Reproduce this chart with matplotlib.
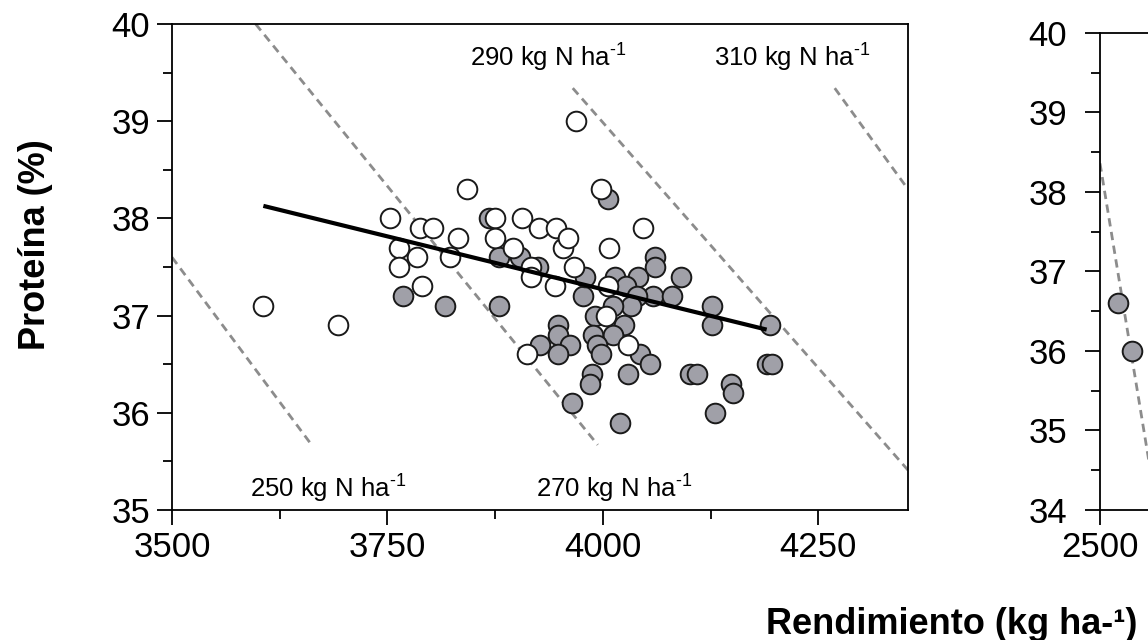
import numpy as np
import matplotlib
matplotlib.use('Agg')
import matplotlib.pyplot as plt
from matplotlib.ticker import MultipleLocator, FixedLocator, NullLocator

# Rendimiento (kg/ha) y proteína (%) de cada parcela
# círculos blancos
blanco_rend = [3606, 3693, 3753, 3763, 3763, 3784, 3788, 3790, 3803, 3822,
               3832, 3842, 3875, 3875, 3896, 3906, 3916, 3917, 3926, 3945,
               3944, 3954, 3960, 3967, 3969, 3998, 4006, 4007, 4004, 4029,
               3912, 4047]
blanco_prot = [37.1, 36.9, 38.0, 37.7, 37.5, 37.6, 37.9, 37.3, 37.9, 37.6,
               37.8, 38.3, 38.0, 37.8, 37.7, 38.0, 37.5, 37.4, 37.9, 37.9,
               37.3, 37.7, 37.8, 37.5, 39.0, 38.3, 37.3, 37.7, 37.0, 36.7,
               36.6, 37.9]

# círculos grises
gris_rend = [3768, 3817, 3868, 3879, 3879, 3904, 3925, 3977, 3979, 4006,
             4014, 4041, 4060, 4060, 4091, 4027, 4058, 4080, 4039, 4033,
             4012, 3991, 4024, 3989, 4012, 3993, 3998, 4043, 4055, 4029,
             3948, 3948, 3927, 3962, 3948, 3987, 3985, 3964, 4020, 4101,
             4109, 4126, 4126, 4194, 4190, 4196, 4149, 4151, 4130]
gris_prot = [37.2, 37.1, 38.0, 37.6, 37.1, 37.6, 37.5, 37.2, 37.4, 38.2,
             37.4, 37.4, 37.6, 37.5, 37.4, 37.3, 37.2, 37.2, 37.2, 37.1,
             37.1, 37.0, 36.9, 36.8, 36.8, 36.7, 36.6, 36.6, 36.5, 36.4,
             36.9, 36.8, 36.7, 36.7, 36.6, 36.4, 36.3, 36.1, 35.9, 36.4,
             36.4, 37.1, 36.9, 36.9, 36.5, 36.5, 36.3, 36.2, 36.0]

# recta de regresión: proteína = a + b * rendimiento
reg_a = 45.99
reg_b = -0.00218
reg_rango = [3606, 4190]

# isolíneas de N exportado (extremos rendimiento / proteína)
iso_n = [250, 270, 290, 310]
iso_rend = [[3500, 3662], [3597, 3994], [3965, 4354], [4269, 4354]]
iso_prot = [[37.60, 35.67], [40.0, 35.67], [39.34, 35.41], [39.34, 38.30]]
# posición de las etiquetas de las isolíneas
iso_lab_x = [3681, 4013, 3936, 4220]
iso_lab_y = [35.13, 35.13, 39.56, 39.56]

# segundo panel (solo se ve el borde izquierdo)
p2_rend = [2537, 2565]
p2_prot = [36.6, 36.0]
p2_iso_rend = [2500, 2616]
p2_iso_prot = [38.36, 34.0]
p2_xticks = [2500]

GRIS = '#a0a0a8'
BORDE = '#1a1a1a'
DASH = '#8c8c8c'


def estilo_ejes(ax, ypad):
    """
    Marco, ticks hacia fuera y fuentes
    """
    for s in ax.spines.values():
        s.set_linewidth(1.3)
        s.set_color('black')
    ax.tick_params(which='major', direction='out', length=10.8, width=1.3,
                   labelsize=25, colors='black')
    ax.tick_params(which='minor', direction='out', length=6.5, width=1.3)
    ax.tick_params(axis='y', pad=ypad)
    ax.tick_params(axis='x', pad=4)
    ax.yaxis.set_minor_locator(MultipleLocator(0.5))


def panel_izq(ax):
    # isolíneas de N (debajo de los puntos)
    for xs, ys in zip(iso_rend, iso_prot):
        ax.plot(xs, ys, color=DASH, lw=2, dashes=(3, 2), zorder=1)
    for n, x, y in zip(iso_n, iso_lab_x, iso_lab_y):
        ax.text(x, y, '%d kg N ha$^{\\text{-}1}$' % n, ha='center',
                va='baseline', fontsize=18.5, zorder=5)

    ax.scatter(gris_rend, gris_prot, s=200, facecolor=GRIS, edgecolor=BORDE,
               linewidth=1.4, zorder=2)
    ax.scatter(blanco_rend, blanco_prot, s=200, facecolor='white',
               edgecolor=BORDE, linewidth=1.4, zorder=3)

    # regresión
    xr = np.array(reg_rango)
    ax.plot(xr, reg_a + reg_b * xr, color='black', lw=3, zorder=4,
            solid_capstyle='butt')

    ax.set_xlim(3500, 4354)
    ax.set_ylim(35, 40)
    ax.xaxis.set_major_locator(MultipleLocator(250))
    ax.xaxis.set_minor_locator(MultipleLocator(125))
    ax.yaxis.set_major_locator(MultipleLocator(1))
    estilo_ejes(ax, 5)


def panel_der(ax):
    ax.plot(p2_iso_rend, p2_iso_prot, color=DASH, lw=2, dashes=(3, 2),
            zorder=1)
    ax.scatter(p2_rend, p2_prot, s=200, facecolor=GRIS, edgecolor=BORDE,
               linewidth=1.4, zorder=2)
    ax.set_xlim(2500, 4000)
    ax.set_ylim(34, 40)
    ax.xaxis.set_major_locator(FixedLocator(p2_xticks))
    ax.xaxis.set_minor_locator(NullLocator())
    ax.yaxis.set_major_locator(MultipleLocator(1))
    estilo_ejes(ax, 13)


def main():
    plt.rcParams['font.family'] = ['Liberation Sans', 'DejaVu Sans']
    plt.rcParams['mathtext.fontset'] = 'custom'
    plt.rcParams['mathtext.rm'] = 'Liberation Sans'
    plt.rcParams['mathtext.it'] = 'Liberation Sans:italic'
    plt.rcParams['mathtext.bf'] = 'Liberation Sans:bold'

    W, H = 1148, 640
    fig = plt.figure(figsize=(W / 100, H / 100), dpi=100)
    ax1 = fig.add_axes([172 / W, 1 - 510 / H, 736 / W, 486 / H])
    ax2 = fig.add_axes([1100 / W, 1 - 510 / H, 736 / W, 477 / H])

    panel_izq(ax1)
    panel_der(ax2)

    fig.text(36 / W, 1 - 245 / H, 'Proteína (%)', rotation=90, ha='center',
             va='center', fontsize=26, fontweight='bold')
    fig.text(952 / W, 1 - 624 / H, 'Rendimiento (kg ha-¹)', ha='center',
             va='center', fontsize=26, fontweight='bold')

    fig.savefig('out.png', dpi=100)


if __name__ == '__main__':
    main()
